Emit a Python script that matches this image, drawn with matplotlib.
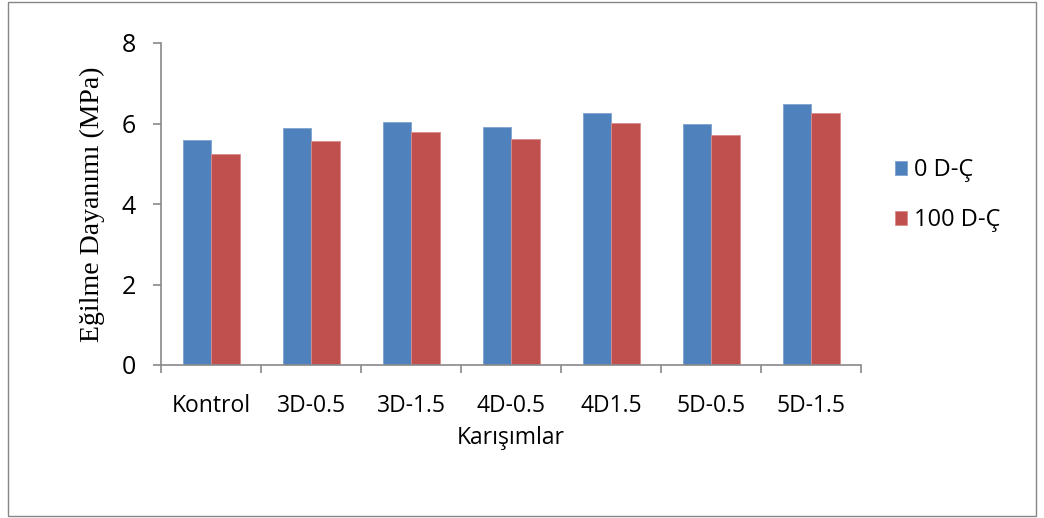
import matplotlib
matplotlib.use("Agg")
import matplotlib.pyplot as plt
import numpy as np
from matplotlib.patches import Rectangle

categories = ["Kontrol", "3D-0.5", "3D-1.5", "4D-0.5", "4D1.5", "5D-0.5", "5D-1.5"]
series_names = ["0 D-Ç", "100 D-Ç"]
values_0 = [5.60, 5.88, 6.03, 5.91, 6.26, 6.00, 6.48]
values_100 = [5.25, 5.56, 5.78, 5.62, 6.02, 5.71, 6.25]
yticks = [0, 2, 4, 6, 8]

blue = "#4F81BD"
red = "#C0504D"
grey = "#898989"
sans = ["Open Sans", "DejaVu Sans"]

fig = plt.figure(figsize=(10.44, 5.18), dpi=100)
fig.patches.append(Rectangle((8/1044, 2/518), 1028/1044, 514/518, transform=fig.transFigure,
                             fill=False, edgecolor="#868686", linewidth=1.0))
ax = fig.add_axes([161/1044, 1-365/518, 700/1044, 322/518])

x = np.arange(len(categories))
w = 0.285
b1 = ax.bar(x - w/2, values_0, w, color=blue, edgecolor="#7FA3D1", linewidth=0.6, label=series_names[0])
b2 = ax.bar(x + w/2, values_100, w, color=red, edgecolor="#D98C8A", linewidth=0.6, label=series_names[1])

ax.set_xlim(-0.5, len(categories) - 0.5)
ax.set_ylim(0, 8)
ax.set_yticks(yticks)
ax.set_yticklabels([str(t) for t in yticks], fontsize=18, family=sans)
ax.set_xticks(x)
ax.set_xticklabels(categories, fontsize=16.5, family=sans)
ax.set_xticks(np.arange(len(categories) + 1) - 0.5, minor=True)
ax.tick_params(axis="x", which="major", length=0, pad=21)
ax.tick_params(axis="x", which="minor", length=6, color=grey, width=1.2, direction="out")
ax.tick_params(axis="y", length=6, color=grey, width=1.2, direction="out", pad=12)
for s in ["top", "right"]:
    ax.spines[s].set_visible(False)
for s in ["left", "bottom"]:
    ax.spines[s].set_color(grey)
    ax.spines[s].set_linewidth(1.2)

ax.set_xlabel("Karışımlar", fontsize=16.5, family=sans, labelpad=6)
ax.set_ylabel("Eğilme Dayanımı (MPa)", fontsize=20, family=["Liberation Serif", "DejaVu Serif"], labelpad=12)

leg = fig.legend(handles=[b1, b2], labels=series_names, loc="center left",
                 bbox_to_anchor=(886/1044, 1-195/518), frameon=False,
                 prop={"family": sans, "size": 17}, handlelength=0.5, handleheight=0.55,
                 labelspacing=1.1, handletextpad=0.3, borderaxespad=0)

fig.savefig("out.png", dpi=100)
